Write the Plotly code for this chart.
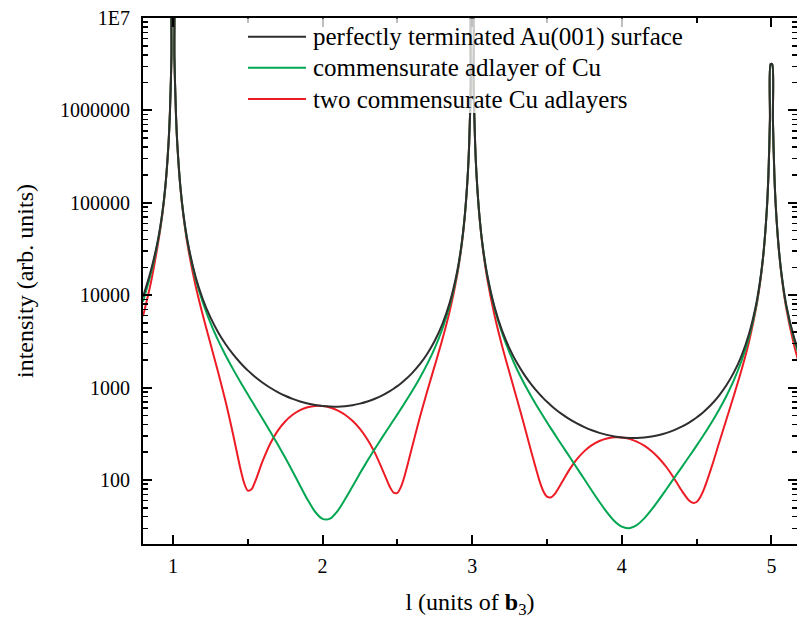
import plotly.graph_objects as go

# ---- data ----
l_values = [0.80, 0.85, 0.90, 0.93, 0.95, 0.97, 0.98, 0.99, 0.997, 1.003, 1.01, 1.02, 1.03, 1.05, 1.07,
            1.10, 1.15, 1.20, 1.25, 1.30, 1.35, 1.40, 1.45, 1.475, 1.50, 1.525, 1.55, 1.60, 1.65, 1.70, 1.75, 1.80,
            1.85, 1.90, 1.95, 2.00, 2.05, 2.10, 2.15, 2.20, 2.25, 2.30, 2.35, 2.40, 2.45, 2.475, 2.50, 2.525, 2.55,
            2.60, 2.65, 2.70, 2.75, 2.80, 2.85, 2.90, 2.93, 2.95, 2.97, 2.98, 2.99, 2.997, 3.003, 3.01,
            3.02, 3.03, 3.05, 3.07, 3.10, 3.15, 3.20, 3.25, 3.30, 3.35, 3.40, 3.45, 3.475, 3.50, 3.525, 3.55, 3.60,
            3.65, 3.70, 3.75, 3.80, 3.85, 3.90, 3.95, 4.00, 4.05, 4.10, 4.15, 4.20, 4.25, 4.30, 4.35,
            4.40, 4.45, 4.475, 4.50, 4.525, 4.55, 4.60, 4.65, 4.70, 4.75, 4.80, 4.85, 4.90, 4.93, 4.95, 4.97, 4.98,
            4.99, 4.995, 5.005, 5.01, 5.02, 5.03, 5.05, 5.07, 5.10, 5.15, 5.20]

au_surface = [9600, 17800, 39660, 79660, 154600, 425600, 953400, 3.798e6, 4.207e7, 4.197e7, 3.768e6, 938600, 415700, 148700, 75400,
              36680, 16150, 9038, 5779, 4027, 2981, 2310, 1855, 1682, 1535, 1409, 1301, 1127, 995.3, 893.8, 815.2, 754.3,
              707.7, 672.6, 647.4, 631.0, 622.6, 622.0, 629.3, 645.1, 670.4, 706.8, 756.8, 824.4, 915.1, 971.6, 1038, 1115, 1206,
              1444, 1792, 2328, 3213, 4832, 8301, 18130, 36420, 70680, 194600, 435900, 1.737e6, 1.923e7, 1.919e7, 1.722e6,
              429000, 190000, 67970, 34470, 16770, 7382, 4131, 2642, 1841, 1363, 1056, 848.3, 768.9, 701.6, 644.3, 594.9, 515.5,
              455.0, 408.6, 372.8, 344.9, 323.6, 307.5, 296.0, 288.5, 284.7, 284.4, 287.8, 295.0, 306.5, 323.2, 346.1,
              376.9, 418.4, 444.2, 474.4, 509.8, 551.5, 660.2, 819.4, 1065, 1469, 2210, 3797, 8291, 16640, 32310, 88910, 199300,
              793700, 3.169e6, 3.156e6, 787600, 196200, 86930, 31080, 15780, 7700, 3550, 2050]

one_cu_layer = [8500, 16500, 38730, 78740, 153700, 424600, 952500, 3.797e6, 4.207e7, 4.197e7, 3.767e6, 937700, 414800, 147800, 74530,
                36040, 15460, 8324, 5060, 3309, 2268, 1604, 1157, 987.8, 845.1, 724.1, 621.3, 457.0, 334.8, 243.3, 174.7, 123.6,
                86.7, 61.2, 45.3, 37.9, 38.2, 46.1, 61.7, 85.2, 117.9, 161.2, 217.6, 290.9, 386.6, 445.5, 513.2, 592.3, 684.7,
                923.6, 1271, 1803, 2679, 4280, 7713, 17460, 36010, 70280, 194200, 435500, 1.737e6, 1.923e7, 1.919e7, 1.722e6,
                428700, 189600, 67580, 34090, 16640, 7179, 3892, 2383, 1571, 1087, 777.0, 567.9, 488.4, 421.2, 364.3, 315.4, 237.5,
                179.2, 135.0, 101.7, 76.5, 58.1, 44.8, 36.0, 31.2, 30.1, 32.5, 38.4, 48.0, 61.7, 80.3, 104.9,
                137.1, 179.4, 205.4, 235.5, 270.8, 312.2, 419.6, 575.9, 816.1, 1213, 1939, 3500, 7940, 16470, 32140, 88740, 199100,
                793500, 3.169e6, 3.156e6, 787400, 196100, 86770, 30910, 15620, 7540, 3390, 1890]

two_cu_layers = [5900, 13000, 36020, 76020, 151000, 421900, 949800, 3.794e6, 4.207e7, 4.197e7, 3.764e6, 935000, 412200, 145200, 71960,
                 33320, 12970, 6056, 3022, 1515, 728.1, 322.9, 134.9, 93.7, 76.8, 79.4, 96.6, 160.7, 246.9, 340.4, 430.0, 508.3,
                 570.1, 612.1, 632.5, 631.0, 608.3, 566.3, 507.8, 436.5, 357.0, 274.7, 196.3, 129.4, 84.0, 73.1, 72.6, 85.0, 113.0,
                 231.9, 473.2, 917.0, 1727, 3289, 6722, 16540, 34820, 69090, 193000, 434400, 1.735e6, 1.923e7, 1.918e7, 1.721e6,
                 427500, 188500, 66440, 32970, 15300, 5990, 2827, 1437, 743.3, 378.8, 188.8, 97.8, 76.1, 66.0, 64.6, 69.9, 94.4,
                 129.4, 167.9, 205.3, 238.0, 263.9, 281.2, 289.5, 288.5, 278.5, 260.3, 235.2, 204.7, 170.9, 136.4, 103.9,
                 76.9, 59.9, 56.6, 57.8, 65.3, 79.9, 137.6, 251.2, 457.0, 829.7, 1546, 3118, 7606, 15960, 31630, 88230, 198600,
                 793000, 3.168e6, 3.155e6, 786900, 195600, 86270, 30420, 15130, 7070, 2950, 1480]

series_names = ["perfectly terminated Au(001) surface",
                "commensurate adlayer of Cu",
                "two commensurate Cu adlayers"]

x_tick_vals = [1, 2, 3, 4, 5]
x_tick_text = ["1", "2", "3", "4", "5"]
y_tick_vals = [1e2, 1e3, 1e4, 1e5, 1e6, 1e7]
y_tick_text = ["100", "1000", "10000", "100000", "1000000", "1E7"]

# ---- styling ----
FONT = "Times New Roman, Liberation Serif, Tinos, DejaVu Serif, Noto Serif, serif"
col_black = "#2e2e2e"
col_green = "#00a651"
col_red = "#ed1c24"
colors = [col_black, col_green, col_red]

W, H = 797, 619
ML, MR, MT, MB = 143, 0, 18, 75
PW, PH = W - ML - MR, H - MT - MB


def px_x(px):
    return (px - ML) / PW


def px_y(py):
    return (H - MB - py) / PH


y_minor = [m * 10 ** e for e in range(1, 7) for m in range(2, 10)]

fig = go.Figure()
fig.add_trace(go.Scatter(x=l_values, y=two_cu_layers, mode="lines", name=series_names[2],
                         line=dict(color=col_red, width=2, shape="spline", smoothing=0.8)))
fig.add_trace(go.Scatter(x=l_values, y=one_cu_layer, mode="lines", name=series_names[1],
                         line=dict(color=col_green, width=2, shape="spline", smoothing=0.8)))
fig.add_trace(go.Scatter(x=l_values, y=au_surface, mode="lines", name=series_names[0],
                         line=dict(color=col_black, width=2, shape="spline", smoothing=0.8)))

# legend drawn as box + line samples + labels (semi-transparent white box like the original)
shapes = [dict(type="rect", xref="paper", yref="paper", x0=px_x(240), x1=px_x(695), y0=px_y(113), y1=px_y(18.5),
               fillcolor="rgba(255,255,255,0.75)", line=dict(width=0), layer="above")]
annotations = []
row_y = [36.7, 67.7, 99.0]
for name, colr, ry in zip(series_names, colors, row_y):
    shapes.append(dict(type="line", xref="paper", yref="paper", x0=px_x(248), x1=px_x(306),
                       y0=px_y(ry), y1=px_y(ry), line=dict(color=colr, width=2), layer="above"))
    annotations.append(dict(text=name, xref="paper", yref="paper", x=px_x(311), y=px_y(ry),
                            xanchor="left", yanchor="middle", showarrow=False,
                            font=dict(family=FONT, size=25, color="black")))

fig.update_layout(
    width=W, height=H,
    margin=dict(l=ML, r=MR, t=MT, b=MB),
    paper_bgcolor="white", plot_bgcolor="white",
    font=dict(family=FONT, size=20, color="black"),
    showlegend=False,
    hovermode=False,
    shapes=shapes,
    annotations=annotations,
    xaxis=dict(range=[0.8, 5.171], tickmode="array", tickvals=x_tick_vals, ticktext=x_tick_text,
               ticks="inside", ticklen=9, tickwidth=2, tickcolor="black",
               minor=dict(tickmode="array", tickvals=[1.5, 2.5, 3.5, 4.5], ticks="inside",
                          ticklen=5, tickwidth=2, tickcolor="black"),
               showline=True, linewidth=2, linecolor="black", mirror="ticks",
               showgrid=False, zeroline=False, ticklabelstandoff=3, automargin=False,
               tickfont=dict(family=FONT, size=20),
               title=dict(text="l (units of <b>b</b><sub>3</sub>)", font=dict(family=FONT, size=24),
                          standoff=17)),
    yaxis=dict(type="log", range=[1.307, 7], tickmode="array", tickvals=y_tick_vals, ticktext=y_tick_text,
               ticks="inside", ticklen=9, tickwidth=2, tickcolor="black",
               minor=dict(tickmode="array", tickvals=y_minor, ticks="inside",
                          ticklen=5, tickwidth=1.5, tickcolor="black"),
               showline=True, linewidth=2, linecolor="black", mirror="ticks",
               showgrid=False, zeroline=False, ticklabelstandoff=7, automargin=False,
               tickfont=dict(family=FONT, size=20),
               title=dict(text="intensity (arb. units)", font=dict(family=FONT, size=24), standoff=20)),
)

fig.write_html("out.html", config={"displayModeBar": False, "staticPlot": True},
               post_script="document.body.style.margin='0';document.body.style.overflow='hidden';")
